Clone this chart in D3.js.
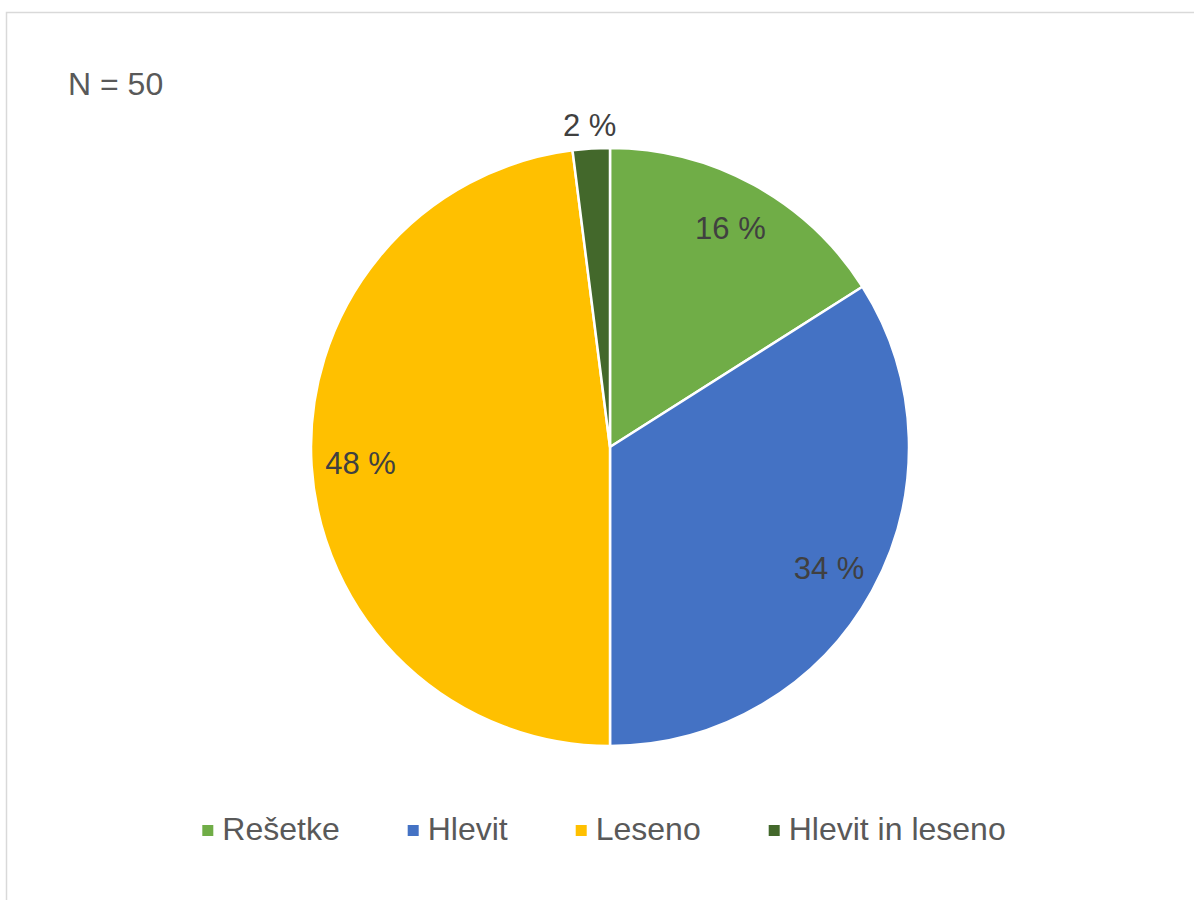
<!DOCTYPE html>
<meta charset="utf-8">
<style>
    body {
        margin: 0;
        background: #fff;
        font-family: "Liberation Sans", Arial, sans-serif;
    }
</style>

<body>
    <script src="https://cdn.jsdelivr.net/npm/d3@7"></script>
    <script>

        // data
        var categories = ["Rešetke", "Hlevit", "Leseno", "Hlevit in leseno"];
        var values = [16, 34, 48, 2];
        var colors = ["#70AD47", "#4472C4", "#FFC000", "#43682B"];
        var sampleLabel = "N = 50";

        var width = 1194,
            height = 900,
            cx = 610,
            cy = 447,
            radius = 299;

        var svg = d3.select("body").append("svg")
            .attr("width", width)
            .attr("height", height);

        // chart area border (runs off right & bottom)
        svg.append("rect")
            .attr("x", 6.5)
            .attr("y", 12.5)
            .attr("width", width)
            .attr("height", height)
            .attr("fill", "none")
            .attr("stroke", "#d9d9d9")
            .attr("stroke-width", 1.5);

        svg.append("text")
            .attr("x", 68)
            .attr("y", 95)
            .attr("fill", "#595959")
            .attr("font-size", "32px")
            .text(sampleLabel);

        var data = categories.map(function (c, i) {
            return { name: c, value: values[i], color: colors[i] };
        });

        var pie = d3.pie()
            .sort(null)
            .value(function (d) { return d.value; });

        var arc = d3.arc()
            .innerRadius(0)
            .outerRadius(radius);

        var labelArc = d3.arc().innerRadius(250).outerRadius(250);
        var outerLabelArc = d3.arc().innerRadius(323).outerRadius(323);

        var g = svg.append("g")
            .attr("transform", "translate(" + cx + "," + cy + ")");

        var arcs = pie(data);

        g.selectAll("path")
            .data(arcs)
            .enter()
            .append("path")
            .attr("d", arc)
            .attr("fill", function (d) { return d.data.color; })
            .attr("stroke", "#fff")
            .attr("stroke-width", 2.5)
            .attr("stroke-linejoin", "round");

        g.selectAll("text.lbl")
            .data(arcs)
            .enter()
            .append("text")
            .attr("class", "lbl")
            .attr("transform", function (d) {
                var c = d.data.value < 5 ? outerLabelArc.centroid(d) : labelArc.centroid(d);
                return "translate(" + c[0] + "," + c[1] + ")";
            })
            .attr("text-anchor", "middle")
            .attr("dy", "0.36em")
            .attr("fill", "#404040")
            .attr("font-size", "31px")
            .text(function (d) { return d.data.value + " %"; });

        // legend
        var legend = svg.append("g");
        var x = 0, gap = 68;
        data.forEach(function (d) {
            var item = legend.append("g").attr("transform", "translate(" + x + ",0)");
            item.append("rect")
                .attr("x", 0)
                .attr("y", -15)
                .attr("width", 11)
                .attr("height", 11)
                .attr("fill", d.color);
            var t = item.append("text")
                .attr("x", 20)
                .attr("y", 0)
                .attr("fill", "#595959")
                .attr("font-size", "32px")
                .text(d.name);
            x += 20 + t.node().getComputedTextLength() + gap;
        });
        var legendWidth = x - gap;
        legend.attr("transform", "translate(" + (604 - legendWidth / 2) + ",840)");

    </script>
</body>
